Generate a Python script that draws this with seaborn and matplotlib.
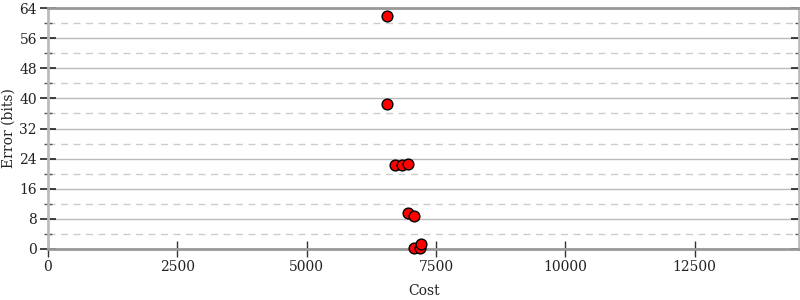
import matplotlib
matplotlib.use("Agg")
import matplotlib.pyplot as plt
import seaborn as sns
import pandas as pd
from matplotlib.ticker import MultipleLocator

cost = [6555, 6555, 6710, 6845, 6960, 6960, 7077, 7077, 7190, 7210]
error = [61.9, 38.5, 22.2, 22.3, 22.7, 9.6, 8.8, 0.2, 0.2, 1.3]
xticks = [0, 2500, 5000, 7500, 10000, 12500]
yticks = [0, 8, 16, 24, 32, 40, 48, 56, 64]

df = pd.DataFrame({"Cost": cost, "Error (bits)": error})

sns.set_style("white")
plt.rcParams['font.family'] = ['DejaVu Serif']

fig = plt.figure(figsize=(8, 3), dpi=100)
ax = fig.add_axes([0.06, 0.17, 0.939, 0.803])

ax.set_xlim(0, 14520)
ax.set_ylim(0, 64)
ax.set_xticks(xticks)
ax.set_yticks(yticks)
ax.yaxis.set_minor_locator(MultipleLocator(4))

ax.grid(True, which='major', axis='y', color='#bbbbbb', linewidth=1, linestyle='-')
ax.grid(True, which='minor', axis='y', color='#cccccc', linewidth=1, linestyle=(0, (5, 4)))
ax.set_axisbelow(True)

sns.scatterplot(data=df, x="Cost", y="Error (bits)", ax=ax, color='#ff0000',
                edgecolor='black', linewidth=1, s=60, zorder=3, clip_on=False)

for s in ['top', 'bottom']:
    ax.spines[s].set_color('#999999')
    ax.spines[s].set_linewidth(2)
for s in ['left', 'right']:
    ax.spines[s].set_color('#bbbbbb')
    ax.spines[s].set_linewidth(2)

ax.tick_params(axis='x', which='major', direction='inout', length=12, width=1,
               color='#333333', labelsize=10, pad=2, labelcolor='#222222',
               bottom=True, top=False)
ax.tick_params(axis='y', which='major', direction='inout', length=12, width=1.2,
               color='#222222', labelsize=10, pad=2, left=True, right=True,
               labelcolor='#222222')
ax.tick_params(axis='y', which='minor', direction='inout', length=6, width=1,
               color='#555555', left=True, right=True)

ax.set_xlabel("Cost", fontsize=10, color='#222222')
ax.set_ylabel("Error (bits)", fontsize=10, color='#222222')
ax.xaxis.set_label_coords(0.5, -0.145)
ax.yaxis.set_label_coords(-0.043, 0.5)

fig.savefig("out.png", dpi=100)
